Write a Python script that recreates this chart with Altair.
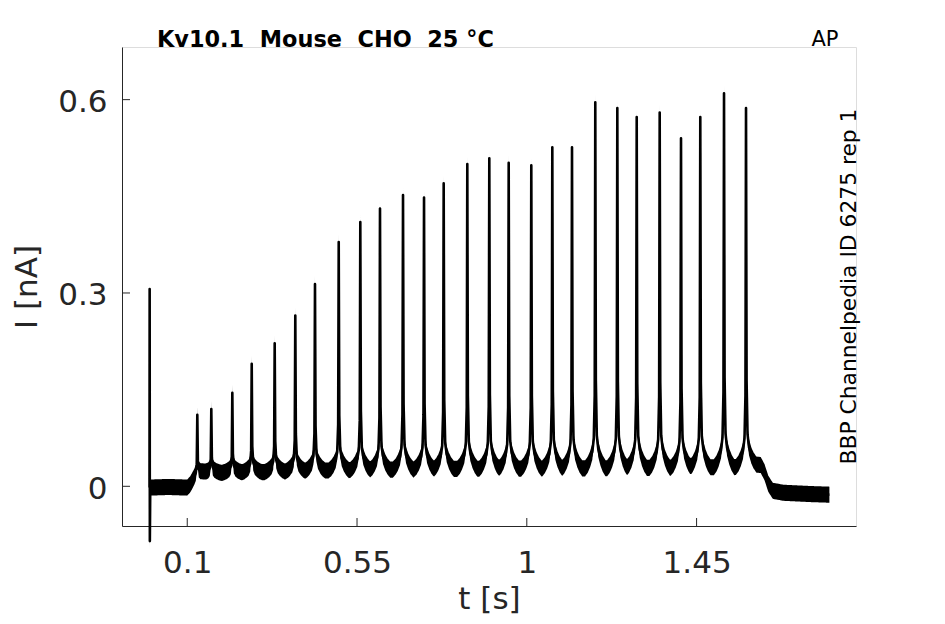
import altair as alt
import numpy as np
import pandas as pd

# ---- values ----
# action-potential-clamp evoked current peaks: time (s) and peak current (nA)
spike_t = [0.1267, 0.1638, 0.2195, 0.2709, 0.3318, 0.3864, 0.4386, 0.5015, 0.5587,
           0.6109, 0.6719, 0.7276, 0.7797, 0.8423, 0.9006, 0.9520, 1.0119, 1.0676,
           1.1198, 1.1815, 1.2399, 1.2913, 1.3522, 1.4087, 1.4598, 1.5227, 1.5810]
spike_peak = [0.111, 0.120, 0.145, 0.190, 0.222, 0.265, 0.314, 0.379, 0.410,
              0.431, 0.452, 0.448, 0.470, 0.500, 0.509, 0.502, 0.498, 0.526,
              0.526, 0.596, 0.587, 0.573, 0.580, 0.540, 0.573, 0.610, 0.587]

# holding current between spikes (time s, current nA)
base_t = [0.0, 0.05, 0.1, 0.108, 0.118, 0.128, 0.14, 0.2, 0.3, 0.5, 0.8, 1.2,
          1.58, 1.605, 1.62, 1.63, 1.64, 1.652, 1.68, 1.75, 1.802]
base_v = [-0.002, -0.001, -0.002, 0.002, 0.010, 0.017, 0.020, 0.021, 0.022, 0.025,
          0.027, 0.028, 0.030, 0.034, 0.033, 0.022, 0.004, -0.007, -0.010, -0.012, -0.013]

# capacitive transient at the start
art_t = [0.0004, 0.0009]
art_v = [0.306, -0.085]

# shape of one current spike (offset s, fraction of its amplitude)
shape_dt = [-0.027, -0.02, -0.014, -0.008, -0.004, -0.0015, 0.0,
            0.0015, 0.004, 0.008, 0.014, 0.02, 0.027]
shape_f = [0.0, 0.010, 0.024, 0.045, 0.08, 0.2, 1.0,
           0.24, 0.09, 0.052, 0.028, 0.012, 0.0]

noise_half = 0.0125  # half thickness of the recording-noise band (nA)

x_ticks = [0.1, 0.55, 1, 1.45]
y_ticks = [0, 0.3, 0.6]

# ---- build the trace table ----
grid = np.round(np.arange(0.0, 1.8021, 0.002), 4)
pts = [grid, np.array(art_t)]
for ts in spike_t:
    pts.append(np.round(ts + np.array(shape_dt), 5))
t_all = np.unique(np.concatenate(pts))
v = np.interp(t_all, base_t, base_v)
for ts, pk in zip(spike_t, spike_peak):
    amp = pk - np.interp(ts, base_t, base_v)
    v = v + amp * np.interp(t_all - ts, shape_dt, shape_f, left=0.0, right=0.0)
for ta, va in zip(art_t, art_v):
    v[np.isclose(t_all, ta)] = va

trace = pd.DataFrame({"t": t_all, "v": v, "lo": v - noise_half, "hi": v + noise_half})
xt = pd.DataFrame({"t": x_ticks})
yt = pd.DataFrame({"v": y_ticks})
one = pd.DataFrame({"a": [0]})

W, H = 734, 479
GRAY = "#262626"
FONT = "DejaVu Sans"

xscale = alt.Scale(domain=[-0.0729, 1.8725], nice=False, zero=False)
yscale = alt.Scale(domain=[-0.0616, 0.6817], nice=False, zero=False)

xaxis = alt.Axis(values=x_ticks, format=".3~g", grid=False, ticks=False,
                 domainColor=GRAY, domainWidth=1, labelFont=FONT, labelFontSize=31,
                 labelColor=GRAY, labelPadding=22, labelFlush=False, labelOverlap=False,
                 title="t [s]", titleFont=FONT, titleFontSize=31, titleFontWeight="normal",
                 titleColor=GRAY, titleX=W / 2, titleY=82, titleBaseline="alphabetic",
                 titleAlign="center")
yaxis = alt.Axis(values=y_ticks, format=".3~g", grid=False, ticks=False,
                 domainColor=GRAY, domainWidth=1, labelFont=FONT, labelFontSize=31,
                 labelColor=GRAY, labelPadding=15, labelOffset=3, labelFlush=False,
                 labelOverlap=False,
                 title="I [nA]", titleFont=FONT, titleFontSize=31, titleFontWeight="normal",
                 titleColor=GRAY, titleX=-86, titleY=H / 2, titleAngle=270,
                 titleBaseline="alphabetic", titleAlign="center")

band = alt.Chart(trace).mark_area(color="black", opacity=1, interpolate="linear").encode(
    x=alt.X("t:Q", scale=xscale, axis=xaxis),
    y=alt.Y("lo:Q", scale=yscale, axis=yaxis),
    y2="hi:Q",
)
line = alt.Chart(trace).mark_line(color="black", strokeWidth=2.6, strokeJoin="round").encode(
    x=alt.X("t:Q", scale=xscale, axis=xaxis),
    y=alt.Y("v:Q", scale=yscale, axis=yaxis),
)
xtick = alt.Chart(xt).mark_rule(color=GRAY, strokeWidth=1).encode(
    x=alt.X("t:Q", scale=xscale, axis=xaxis),
    y=alt.value(H), y2=alt.value(H - 8),
)
ytick = alt.Chart(yt).mark_rule(color=GRAY, strokeWidth=1).encode(
    y=alt.Y("v:Q", scale=yscale, axis=yaxis),
    x=alt.value(0), x2=alt.value(8),
)

title = alt.Chart(one).mark_text(
    text="Kv10.1\u00a0\u00a0Mouse\u00a0\u00a0CHO\u00a0\u00a025\u00a0°C", font=FONT,
    fontSize=22.4, fontWeight="bold", color="black", align="left", baseline="alphabetic"
).encode(x=alt.value(35), y=alt.value(0))
ap = alt.Chart(one).mark_text(
    text="AP", font=FONT, fontSize=21, color="black", align="left", baseline="alphabetic"
).encode(x=alt.value(689.5), y=alt.value(-1))
side = alt.Chart(one).mark_text(
    text="BBP Channelpedia ID 6275 rep 1", font=FONT, fontSize=21.8, color="black",
    align="center", baseline="alphabetic", angle=270
).encode(x=alt.value(W - 0.5), y=alt.value(H / 2))

chart = alt.layer(band, line, xtick, ytick, title, ap, side).properties(
    width=W, height=H,
    autosize=alt.AutoSizeParams(type="none"),
    padding={"left": 114, "top": 39, "right": 81, "bottom": 90},
).configure_view(stroke=None).configure(font=FONT)

chart.save("out.html", embed_options={"renderer": "svg", "actions": False})
